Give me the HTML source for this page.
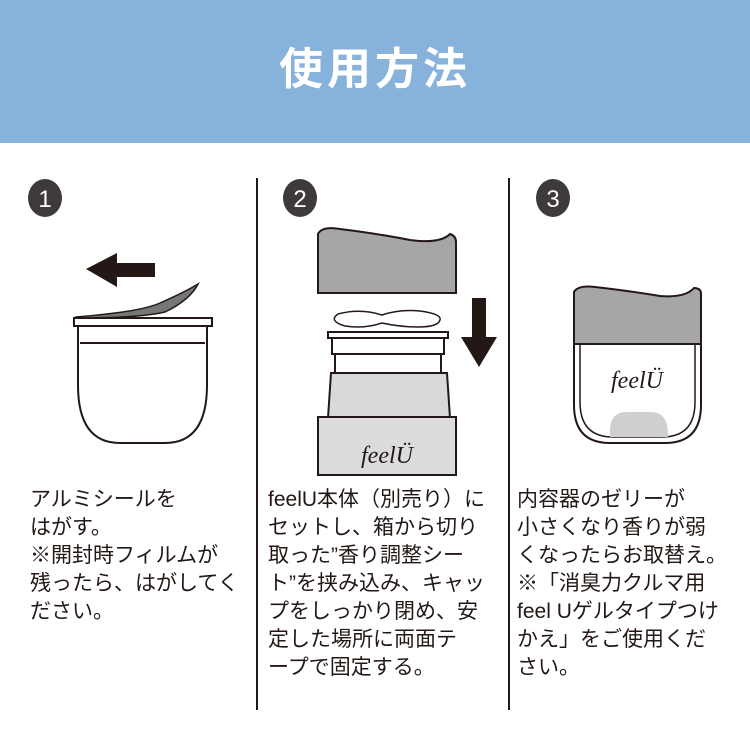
<!DOCTYPE html>
<html><head><meta charset="utf-8"><style>
body{margin:0;width:750px;height:750px;background:#fff;position:relative;overflow:hidden;font-family:"Liberation Sans","Noto Sans CJK JP",sans-serif;color:#231815}
.hd{position:absolute;left:0;top:0;width:750px;height:143px;background:#86b2dc}
.hd div{position:absolute;left:0;width:750px;top:40px;text-align:center;color:#fff;font-size:44px;font-weight:bold;letter-spacing:4px;line-height:60px}
.t{position:absolute;font-size:21px;line-height:28px;white-space:nowrap}
</style></head><body>
<div class="hd"><div>使用方法</div></div>
<svg width="750" height="750" style="position:absolute;left:0;top:0">
<g stroke="#231815" stroke-width="2">
<line x1="257" y1="178" x2="257" y2="710"/><line x1="509" y1="178" x2="509" y2="710"/>
</g>
<g fill="#3e3a39"><ellipse cx="45" cy="198" rx="17" ry="19"/><ellipse cx="300" cy="198" rx="17" ry="19"/><ellipse cx="553" cy="198" rx="17" ry="19"/></g>
<g fill="#fff" font-size="24" text-anchor="middle" font-family="Liberation Sans"><text x="45" y="207">1</text><text x="300" y="207">2</text><text x="553" y="207">3</text></g>
<!-- panel1 -->
<polygon points="86,269 117,253 117,263 155,263 155,277 117,277 117,287" fill="#231815"/>
<path d="M78,326 L207,326 L207,385 Q207,443 165,443 L120,443 Q78,443 78,385 Z" fill="#fff" stroke="#231815" stroke-width="2"/>
<line x1="80" y1="343" x2="205" y2="343" stroke="#231815" stroke-width="2"/>
<rect x="74" y="318" width="138" height="8" fill="#fff" stroke="#231815" stroke-width="2"/>
<path d="M76,317 Q140,312 160,303 Q185,292 198,284 Q190,300 165,312 Q140,318 76,318Z" fill="#777" stroke="#231815" stroke-width="1.5"/>
<!-- panel2 -->
<path d="M318,234 Q322,226 340,229 Q380,234 410,240 Q440,244 450,234 Q456,236 456,242 L456,293 L318,293 Z" fill="#a6a6a6" stroke="#231815" stroke-width="2"/>
<path d="M338,314 Q360,308 382,315 Q400,309 420,311 Q442,314 440,320 Q438,327 418,327 Q400,327 382,323 Q365,329 345,326 Q328,321 338,314Z" fill="#fff" stroke="#231815" stroke-width="1.5"/>
<path d="M328,418 L331,373 L447,373 L450,418Z" fill="#d9d9d9" stroke="#231815" stroke-width="2"/>
<rect x="318" y="417" width="138" height="58" fill="#dcdcdc" stroke="#231815" stroke-width="2"/>
<rect x="335" y="354" width="106" height="19" fill="#fff" stroke="#231815" stroke-width="2"/>
<rect x="332" y="338" width="112" height="16" fill="#fff" stroke="#231815" stroke-width="2"/>
<rect x="328" y="332" width="120" height="6" fill="#fff" stroke="#231815" stroke-width="2"/>
<polygon points="472,298 486,298 486,337 497,337 479,367 461,337 472,337" fill="#231815"/>
<text x="387" y="463" font-family="Liberation Serif" font-style="italic" font-size="24" text-anchor="middle" fill="#231815">feelÜ</text>
<!-- panel3 -->
<path d="M574,344 L701,344 L701,405 Q701,443 665,443 L610,443 Q574,443 574,405Z" fill="#fff" stroke="#231815" stroke-width="2"/>
<path d="M580,344 L695,344 L695,402 Q695,437 662,437 L613,437 Q580,437 580,402Z" fill="none" stroke="#231815" stroke-width="1.5"/>
<path d="M610,437 Q608,413 625,412 L652,412 Q669,413 668,437Z" fill="#cfcfcf"/>
<path d="M574,292 Q578,285 595,287 Q630,291 660,296 Q685,298 694,288 Q701,288 701,294 L701,344 L574,344Z" fill="#a6a6a6" stroke="#231815" stroke-width="2"/>
<text x="637" y="388" font-family="Liberation Serif" font-style="italic" font-size="24" text-anchor="middle" fill="#231815">feelÜ</text>
</svg>
<div class="t" style="left:30px;top:486px">アルミシールを<br>はがす。<br>※開封時フィルムが<br>残ったら、はがしてく<br>ださい。</div>
<div class="t" style="left:268px;top:486px">feelU本体（別売り）に<br>セットし、箱から切り<br>取った”香り調整シー<br>ト”を挟み込み、キャッ<br>プをしっかり閉め、安<br>定した場所に両面テ<br>ープで固定する。</div>
<div class="t" style="left:517px;top:486px">内容器のゼリーが<br>小さくなり香りが弱<br>くなったらお取替え。<br>※「消臭力クルマ用<br>feel Uゲルタイプつけ<br>かえ」をご使用くだ<br>さい。</div>
</body></html>
